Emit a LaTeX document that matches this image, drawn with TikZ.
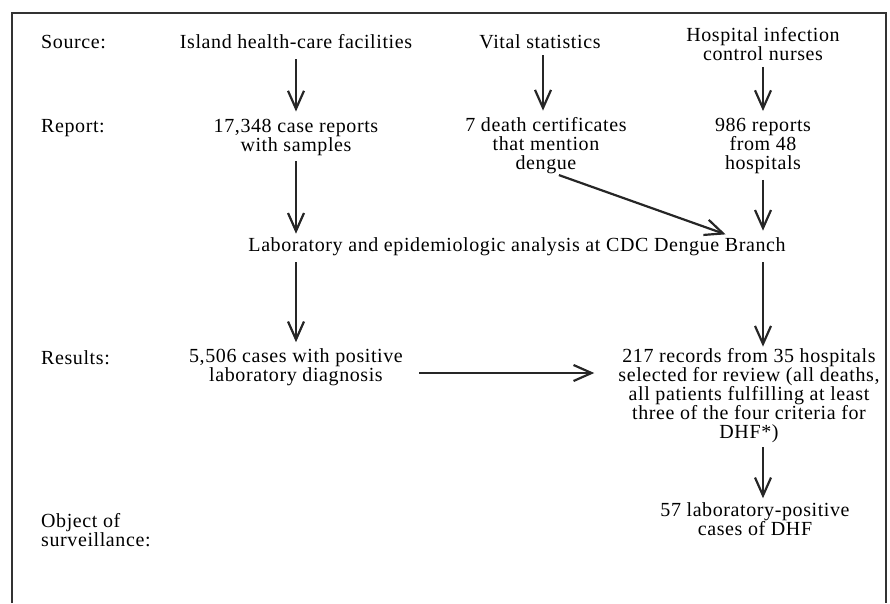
\documentclass[tikz,border=0pt]{standalone}
\usepackage{fontspec}
\setmainfont[LetterSpace=3]{Liberation Serif}
\usetikzlibrary{arrows.meta}

\begin{document}
\begin{tikzpicture}[x=1pt,y=-1pt,font=\fontsize{20}{19}\selectfont,
txt/.style={align=center,inner sep=0pt},
lbl/.style={align=left,inner sep=0pt,anchor=west},
arr/.style={-{Straight Barb[length=18pt,width=16pt]},line width=2.2pt,draw=black!85}]
\useasboundingbox(0,0)rectangle(890,603);
\draw[line width=2pt,black!80](12,603)--(12,13)--(886,13)--(886,603);

\node[lbl](lsrc)at(41,42){Source:};
\node[lbl](lrep)at(41,128){Report:};
\node[lbl](lres)at(41,358){Results:};
\node[lbl](lobj)at(41,530){Object of\\surveillance:};

\node[txt](isl)at(296,42){Island health-care facilities};
\node[txt](vit)at(540,42){Vital statistics};
\node[txt](hosp)at(763,44){Hospital infection\\control nurses};

\node[txt](crep)at(296,137){17,348 case reports\\with samples};
\node[txt](drep)at(546,146){7 death certificates\\that mention\\dengue};
\node[txt](hrep)at(763,146){986 reports\\from 48\\hospitals};

\node[txt](lab)at(517,247){Laboratory and epidemiologic analysis at CDC Dengue Branch};

\node[txt](pos)at(296,367){5,506 cases with positive\\laboratory diagnosis};
\node[txt](rev)at(749,396){217 records from 35 hospitals\\selected for review (all deaths,\\all patients fulfilling at least\\three of the four criteria for\\DHF*)};
\node[txt](dhf)at(755,519){57 laboratory-positive\\cases of DHF};

\coordinate(lin)at(735,0|-lab.north);
\coordinate(hz)at([yshift=-6pt]pos.east);

\draw[arr,shorten <=10pt,shorten >=7pt](isl.south)--(crep.north);
\draw[arr,shorten <=6pt,shorten >=7pt](vit.south-|543,0)--(543,0|-drep.north);
\draw[arr,shorten <=6pt,shorten >=7pt](hosp.south)--(hrep.north);
\draw[arr,shorten <=6pt,shorten >=4pt](crep.south)--(crep.south|-lab.north);
\draw[arr,shorten <=2pt,shorten >=10pt]([xshift=11pt]drep.south)--(lin);
\draw[arr,shorten <=6pt,shorten >=7pt](hrep.south)--(hrep.south|-lab.north);
\draw[arr,shorten <=6pt,shorten >=6pt](lab.south-|pos)--(pos.north);
\draw[arr,shorten <=6pt,shorten >=2pt](lab.south-|hrep)--(hrep.south|-rev.north);
\draw[arr,shorten <=16pt,shorten >=24pt](hz)--(hz-|rev.west);
\draw[arr,shorten <=4pt,shorten >=4pt](hrep.south|-rev.south)--(hrep.south|-dhf.north);
\end{tikzpicture}
\end{document}
